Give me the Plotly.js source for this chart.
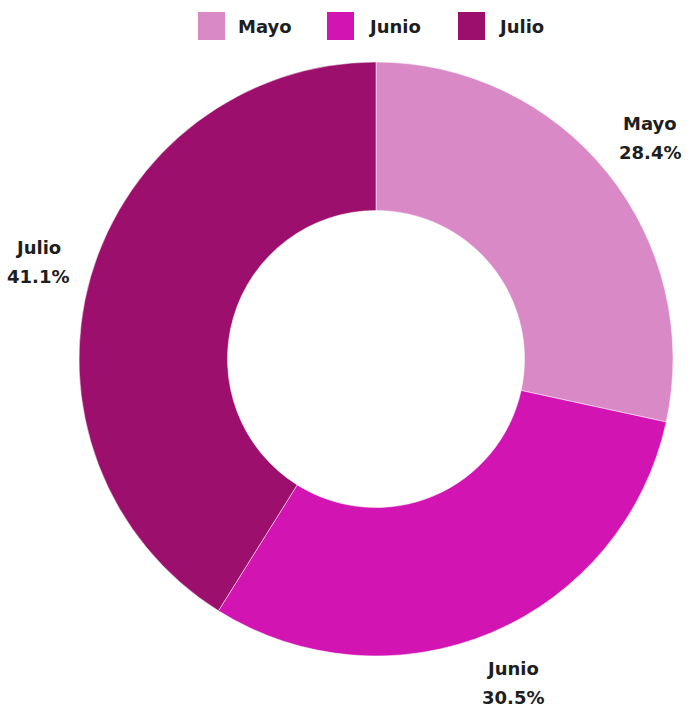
<!DOCTYPE html>
<html><head><meta charset="utf-8">
<script src="https://cdn.plot.ly/plotly-3.0.1.min.js"></script>
<style>html,body{margin:0;padding:0;background:#fff}#chart{width:694px;height:707px}</style>
</head><body><div id="chart"></div>
<script>
const categories = ["Mayo", "Junio", "Julio"];
const values = [28.4, 30.5, 41.1];
const colors = ["#DA89C7", "#D214B3", "#9C0F6C"];

const W = 694, H = 707;
const cx = 376, cy = 359, R = 297, labelR = 352;
const font = {family: "'DejaVu Sans', sans-serif", size: 18, color: "#1e1e1e", weight: 700};

const total = values.reduce((a, b) => a + b, 0);
const annotations = [];
const shapes = [];
let cum = 0;
values.forEach((v, i) => {
  const mid = (cum + v / 2) / total * 2 * Math.PI;
  cum += v;
  const px = cx + labelR * Math.sin(mid);
  const py = cy - labelR * Math.cos(mid);
  const lines = [categories[i], (v / total * 100).toFixed(1) + "%"];
  lines.forEach((t, k) => {
    annotations.push({
      x: px / W, y: 1 - (py + (k - 0.5) * 29) / H, xref: "paper", yref: "paper",
      text: t, showarrow: false, font: font, align: "center", xanchor: "center", yanchor: "middle"
    });
  });
});

// custom legend
const legX = [198, 327, 458];
const legTextX = [236, 366, 496];
categories.forEach((c, i) => {
  shapes.push({type: "rect", xref: "paper", yref: "paper",
    x0: legX[i] / W, x1: (legX[i] + 27) / W, y0: 1 - 40 / H, y1: 1 - 12 / H,
    fillcolor: colors[i], line: {width: 0}});
  annotations.push({x: legTextX[i] / W, y: 1 - 26 / H, xref: "paper", yref: "paper",
    text: c, showarrow: false, font: font, xanchor: "left", yanchor: "middle"});
});

const trace = {
  type: "pie", labels: categories, values: values, hole: 0.5, sort: false,
  direction: "clockwise", rotation: 0,
  marker: {colors: colors, line: {color: "#ffffff", width: 0.5}},
  textinfo: "none", hoverinfo: "label+percent",
  domain: {x: [(cx - R) / W, (cx + R) / W], y: [1 - (cy + R) / H, 1 - (cy - R) / H]}
};

Plotly.newPlot("chart", [trace], {
  width: W, height: H, margin: {l: 0, r: 0, t: 0, b: 0},
  showlegend: false, paper_bgcolor: "#fff", annotations: annotations, shapes: shapes
}, {displayModeBar: false, staticPlot: true});
</script></body></html>
